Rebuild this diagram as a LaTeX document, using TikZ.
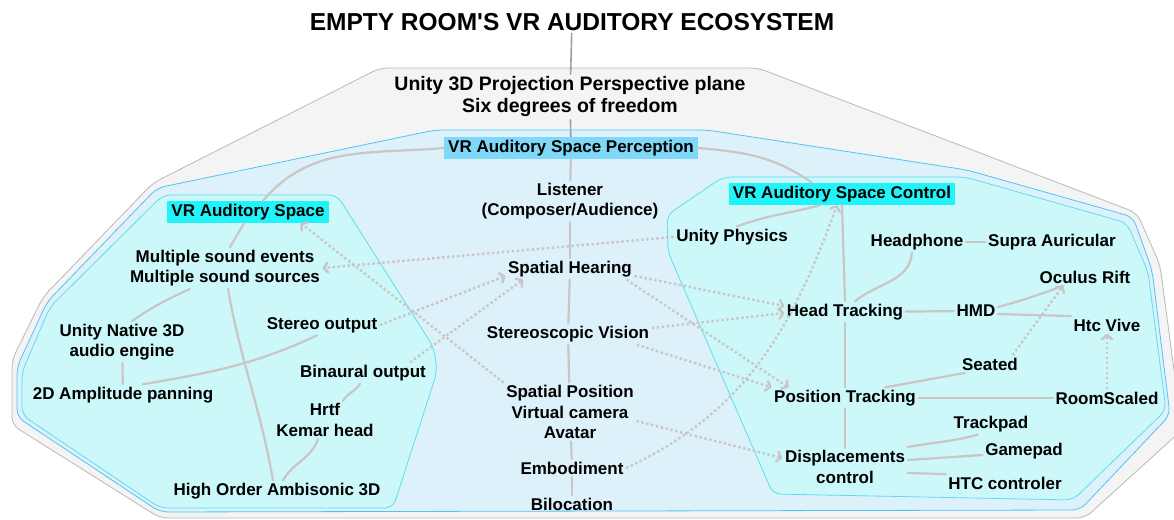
\documentclass[tikz,border=0pt]{standalone}
\usepackage{fontspec}
\setmainfont{Liberation Sans}[Ligatures=TeXOff]
\usetikzlibrary{arrows.meta}
\definecolor{roomfill}{HTML}{F4F4F4}
\definecolor{roomline}{HTML}{B9B9B9}
\definecolor{percfill}{HTML}{DDF1FA}
\definecolor{percline}{HTML}{4FC3F7}
\definecolor{zonefill}{HTML}{CCF8FA}
\definecolor{zoneline}{HTML}{5CDDF0}
\definecolor{percbox}{HTML}{80D8F8}
\definecolor{zonebox}{HTML}{20F4F8}
\definecolor{linkgray}{HTML}{CBC5C5}
\definecolor{stemgray}{HTML}{A0A0A0}

\begin{document}
\begin{tikzpicture}[line cap=round,line join=round,x=1pt,y=1pt,
  lbl/.style={font=\bfseries\fontsize{17}{20.5}\selectfont,align=center,inner sep=2.5pt},
  tagperc/.style={lbl,fill=percbox,text height=12.5pt,text depth=3.5pt,inner xsep=4pt,inner ysep=3pt},
  tagzone/.style={lbl,fill=zonebox,text height=12.5pt,text depth=3.5pt,inner xsep=4pt,inner ysep=3pt},
  stem/.style={draw=stemgray,line width=1.6pt},
  link/.style={draw=linkgray,line width=2.2pt},
  cue/.style={draw=linkgray,line width=2.4pt,line cap=butt,dash pattern=on 2.4pt off 2.6pt,
    -{Straight Barb[length=4pt,width=10pt,round]}}]
\useasboundingbox (0,0) rectangle (1174,519);
\clip (0,0) rectangle (1174,519);
\filldraw[fill=roomfill,draw=roomline,line width=0.8pt,rounded corners=8pt] (380,451)-- (758,451)-- (1137,306)-- (1160,254)-- (1182,89)-- (1085,1)-- (160,1)-- (12,94)-- (12,159)-- (43,222)-- (153,336)-- cycle;
\filldraw[fill=percfill,draw=percline,line width=0.8pt,rounded corners=8pt] (435,389)-- (707,389)-- (967,349)-- (1133,302)-- (1152,249)-- (1170,104)-- (1080,9)-- (160,7)-- (17,102)-- (17,152)-- (47,217)-- (157,331)-- cycle;
\filldraw[fill=zonefill,draw=zoneline,line width=0.8pt,rounded corners=8pt] (163,324)-- (337,324)-- (434,171)-- (437,147)-- (393,11)-- (160,11)-- (22,104)-- (22,147)-- (50,212)-- cycle;
\filldraw[fill=zonefill,draw=zoneline,line width=0.8pt,rounded corners=8pt] (723,342)-- (965,342)-- (1127,296)-- (1148,247)-- (1166,109)-- (1073,19)-- (773,25)-- (668,267)-- (667,304)-- cycle;

\node[lbl,font=\bfseries\fontsize{24.5}{28}\selectfont] (title) at (572,497) {EMPTY ROOM'S VR AUDITORY ECOSYSTEM};
\node[lbl,font=\bfseries\fontsize{19.5}{22}\selectfont] (unity) at (570,422) {Unity 3D Projection Perspective plane\\Six degrees of freedom};
\node[tagperc] (perception) at (571,371) {VR Auditory Space Perception};
\node[lbl] (listener) at (570,318) {Listener\\(Composer/Audience)};
\node[lbl] (hearing) at (570,250) {Spatial Hearing};
\node[lbl] (vision) at (568,185) {Stereoscopic Vision};
\node[lbl] (position) at (570,107) {Spatial Position\\Virtual camera\\Avatar};
\node[lbl] (embodiment) at (572,51) {Embodiment};
\node[lbl] (bilocation) at (572,15) {Bilocation};

\node[tagzone] (space) at (248,307) {VR Auditory Space};
\node[lbl] (sources) at (225,251) {Multiple sound events\\Multiple sound sources};
\node[lbl] (native) at (122,177) {Unity Native 3D\\audio engine};
\node[lbl] (stereo) at (322,194) {Stereo output};
\node[lbl] (panning) at (123,124) {2D Amplitude panning};
\node[lbl] (binaural) at (363,146) {Binaural output};
\node[lbl] (hrtf) at (325,99) {Hrtf\\Kemar head};
\node[lbl] (ambisonic) at (277,28) {High Order Ambisonic 3D};

\node[tagzone] (control) at (842,325) {VR Auditory Space Control};
\node[lbl] (physics) at (732,282) {Unity Physics};
\node[lbl] (headphone) at (917,277) {Headphone};
\node[lbl] (supra) at (1052,277) {Supra Auricular};
\node[lbl] (oculus) at (1085,242) {Oculus Rift};
\node[lbl] (headtrack) at (845,207) {Head Tracking};
\node[lbl] (hmd) at (976,208) {HMD};
\node[lbl] (vive) at (1107,194) {Htc Vive};
\node[lbl] (seated) at (990,155) {Seated};
\node[lbl] (postrack) at (845,121) {Position Tracking};
\node[lbl] (roomscaled) at (1107,121) {RoomScaled};
\node[lbl] (trackpad) at (991,95) {Trackpad};
\node[lbl] (gamepad) at (1024,68) {Gamepad};
\node[lbl] (displace) at (845,52) {Displacements\\control};
\node[lbl] (htcctrl) at (1005,36) {HTC controler};

\draw[stem] (title)-- (unity);
\draw[stem] (unity)-- (perception);
\draw[link] (perception)-- (listener);
\draw[link] (listener)-- (hearing);
\draw[link] (hearing)-- (vision);
\draw[link] (vision)-- (position);
\draw[link] (position)-- (embodiment);
\draw[link] (embodiment)-- (bilocation);
\draw[link] (perception.west) to[out=185,in=50] ([xshift=15pt]space.north);
\draw[link] ([xshift=-4pt]space.south)-- ([xshift=5pt]sources.north);
\draw[link] (perception.east) to[out=-5,in=145] ([xshift=-30pt]control.north);
\draw[link] ([xshift=-22pt]control.south) to[out=195,in=20] ([xshift=5pt]physics.north);
\draw[link] (control.south)-- (headtrack.north);
\draw[link] (headtrack)-- (postrack);
\draw[link] (postrack)-- (displace);
\draw[link] ([xshift=10pt]headtrack.north) to[out=40,in=-95] ([xshift=-5pt]headphone.south);
\draw[link] (headphone)-- (supra);
\draw[link] (headtrack)-- (hmd);
\draw[link] ([yshift=4pt]hmd.east) to[out=15,in=200] ([xshift=-22pt]oculus.south);
\draw[link] ([yshift=-3pt]hmd.east)-- (vive.north west);
\draw[link] ([xshift=40pt]postrack.north) to[out=10,in=190] ([xshift=-25pt]seated.south);
\draw[link] (postrack)-- (roomscaled);
\draw[link] ([yshift=20pt]displace.east) to[out=10,in=195] ([xshift=-13pt]trackpad.south);
\draw[link] ([yshift=7pt]displace.east)-- ([yshift=-4pt]gamepad.west);
\draw[link] ([yshift=-6pt]displace.east)-- (htcctrl.north west);
\draw[link] ([xshift=-35pt]sources.south) to[out=205,in=35] ([xshift=10pt]native.north);
\draw[link] (native)-- (panning);
\draw[link] ([xshift=-5pt]stereo.south) to[out=205,in=10] ([xshift=20pt]panning.north);
\draw[link] ([xshift=3pt]sources.south) to[out=-80,in=100] ([xshift=-4pt]ambisonic.north);
\draw[link] ([xshift=-3pt]binaural.south) to[out=-120,in=60] ([xshift=18pt]hrtf.north);
\draw[link] ([xshift=-7pt]hrtf.south) to[out=-110,in=60] ([xshift=6pt]ambisonic.north);

\draw[cue] (physics.west)-- (sources.east);
\draw[cue] (stereo.east)-- ([yshift=-7pt]hearing.west);
\draw[cue] ([xshift=47pt]binaural.north)-- ([xshift=-47pt]hearing.south);
\draw[cue] (position.north west)-- ([xshift=-28pt]space.south east);
\draw[cue] ([yshift=-7pt]hearing.east)-- ([yshift=6pt]headtrack.west);
\draw[cue] ([yshift=6pt]vision.east)-- ([yshift=-1pt]headtrack.west);
\draw[cue] ([xshift=-8pt]hearing.south east)-- ([xshift=17pt]postrack.north west);
\draw[cue] ([xshift=-15pt]vision.south east)-- (postrack.north west);
\draw[cue] (embodiment.east) to[out=25,in=-110] ([xshift=-5pt]control.south);
\draw[cue] ([yshift=-9pt]position.east)-- ([yshift=9pt]displace.west);
\draw[cue] (roomscaled)-- (vive);
\draw[cue] ([xshift=-8pt]seated.north east)-- ([xshift=-22pt]oculus.south);
\end{tikzpicture}
\end{document}
